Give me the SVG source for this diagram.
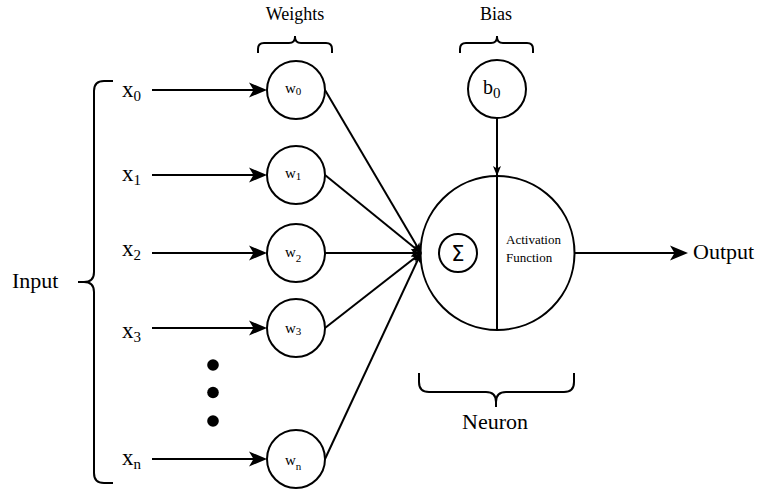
<svg xmlns="http://www.w3.org/2000/svg" width="760" height="492" viewBox="0 0 760 492">
  <defs>
    <style>
      .ln { stroke: #000; stroke-width: 2; fill: none; }
      .node { stroke: #000; stroke-width: 2; fill: #fff; }
      .brace { stroke: #000; stroke-width: 2; fill: none; stroke-linejoin: round; }
      .serif { font-family: "Liberation Serif", "Times New Roman", serif; fill: #000; }
      .lbl { font-size: 22px; }
      .hdr { font-size: 18px; }
      .xl { font-size: 23px; }
      .xs { font-size: 15px; }
      .wl { font-size: 15px; }
      .ws { font-size: 11px; }
      .act { font-size: 13px; }
    </style>
    <marker id="big" markerUnits="userSpaceOnUse" markerWidth="18" markerHeight="15" refX="14" refY="7.5" orient="auto" overflow="visible">
      <path d="M0,0 L18,7.5 L0,15 L4.5,7.5 Z" fill="#000"/>
    </marker>
    <marker id="small" markerUnits="userSpaceOnUse" markerWidth="10" markerHeight="8" refX="10" refY="4" orient="auto" overflow="visible">
      <path d="M0,0 L10,4 L0,8 L2.5,4 Z" fill="#000"/>
    </marker>
  </defs>

  <rect width="760" height="492" fill="#fff"/>

  <!-- braces and group labels -->
  <g id="input-group">
    <path class="brace" d="M113,81 L104,81 Q94,81 94,91 L94,272 Q94,282 84,282 L78,282 M84,282 Q94,282 94,292 L94,473 Q94,483 104,483 L113,483"/>
    <text class="serif lbl" x="12" y="288">Input</text>
  </g>
  <g id="weights-group">
    <path class="brace" d="M258,53 L258,49 Q258,43 264,43 L289,43 Q295,43 295,37 L295,36 M295,37 Q295,43 301,43 L326,43 Q332,43 332,49 L332,53"/>
    <text class="serif hdr" x="295" y="20" text-anchor="middle">Weights</text>
  </g>
  <g id="bias-group">
    <path class="brace" d="M460,53 L460,49 Q460,43 466,43 L491,43 Q497,43 497,37 L497,36 M497,37 Q497,43 503,43 L527,43 Q533,43 533,49 L533,53"/>
    <text class="serif hdr" x="496" y="20" text-anchor="middle">Bias</text>
  </g>
  <g id="neuron-group">
    <path class="brace" d="M419,373 L419,382 Q419,392 429,392 L486,392 Q496,392 496,402 L496,407 M496,402 Q496,392 506,392 L564,392 Q574,392 574,382 L574,373"/>
    <text class="serif lbl" x="495" y="429" text-anchor="middle">Neuron</text>
  </g>

  <!-- inputs -->
  <g id="x0"><text class="serif xl" x="122" y="97">x<tspan class="xs" dy="4">0</tspan></text></g>
  <g id="x1"><text class="serif xl" x="122" y="181">x<tspan class="xs" dy="4">1</tspan></text></g>
  <g id="x2"><text class="serif xl" x="122" y="256">x<tspan class="xs" dy="4">2</tspan></text></g>
  <g id="x3"><text class="serif xl" x="122" y="338">x<tspan class="xs" dy="4">3</tspan></text></g>
  <g id="xn"><text class="serif xl" x="122" y="465">x<tspan class="xs" dy="4">n</tspan></text></g>

  <!-- ellipsis between x3 and xn -->
  <g id="ellipsis">
    <circle cx="213" cy="365" r="5.8" fill="#000"/>
    <circle cx="213" cy="392.5" r="5.8" fill="#000"/>
    <circle cx="213" cy="421" r="5.8" fill="#000"/>
  </g>

  <!-- weight nodes -->
  <g id="w0">
    <circle class="node" cx="296" cy="90" r="29"/>
    <text class="serif wl" x="285" y="93">w<tspan class="ws" dy="1.5">0</tspan></text>
  </g>
  <g id="w1">
    <circle class="node" cx="296" cy="175" r="29"/>
    <text class="serif wl" x="285" y="178">w<tspan class="ws" dy="1.5">1</tspan></text>
  </g>
  <g id="w2">
    <circle class="node" cx="296" cy="253" r="29"/>
    <text class="serif wl" x="285" y="257">w<tspan class="ws" dy="5">2</tspan></text>
  </g>
  <g id="w3">
    <circle class="node" cx="296" cy="328" r="29"/>
    <text class="serif wl" x="285" y="333">w<tspan class="ws" dy="1.5">3</tspan></text>
  </g>
  <g id="wn">
    <circle class="node" cx="296" cy="459" r="29"/>
    <text class="serif wl" x="285" y="465">w<tspan class="ws" dy="5">n</tspan></text>
  </g>

  <!-- bias node -->
  <g id="b0">
    <circle class="node" cx="497" cy="89" r="29"/>
    <text class="serif" font-size="20" x="483" y="94">b<tspan font-size="15" dy="3.5">0</tspan></text>
  </g>

  <!-- neuron: summation and activation halves -->
  <g id="neuron">
    <circle class="node" cx="497.5" cy="253" r="77"/>
    <line class="ln" x1="497" y1="176" x2="497" y2="330"/>
    <circle class="node" cx="458" cy="253" r="19"/>
    <text x="458" y="261" text-anchor="middle" font-family="DejaVu Sans, sans-serif" font-size="21" fill="#000">Σ</text>
    <text class="serif act" x="506" y="244">Activation</text>
    <text class="serif act" x="506" y="262">Function</text>
  </g>

  <!-- output label -->
  <g id="output">
    <text class="serif lbl" x="693" y="259">Output</text>
  </g>

  <!-- connectors -->
  <g id="connectors">
    <line class="ln" x1="152" y1="90" x2="263" y2="90" marker-end="url(#big)"/>
    <line class="ln" x1="152" y1="175" x2="263" y2="175" marker-end="url(#big)"/>
    <line class="ln" x1="152" y1="253" x2="263" y2="253" marker-end="url(#big)"/>
    <line class="ln" x1="152" y1="328" x2="263" y2="328" marker-end="url(#big)"/>
    <line class="ln" x1="152" y1="459" x2="263" y2="459" marker-end="url(#big)"/>

    <line class="ln" x1="325" y1="90" x2="421" y2="253" marker-end="url(#small)"/>
    <line class="ln" x1="325" y1="175" x2="421" y2="253" marker-end="url(#small)"/>
    <line class="ln" x1="325" y1="253" x2="421" y2="253" marker-end="url(#small)"/>
    <line class="ln" x1="325" y1="328" x2="421" y2="253" marker-end="url(#small)"/>
    <line class="ln" x1="325" y1="459" x2="421" y2="253" marker-end="url(#small)"/>

    <line class="ln" x1="497" y1="118" x2="497" y2="176" marker-end="url(#small)"/>

    <line class="ln" x1="574.5" y1="253" x2="684" y2="253" marker-end="url(#big)"/>
  </g>
</svg>
